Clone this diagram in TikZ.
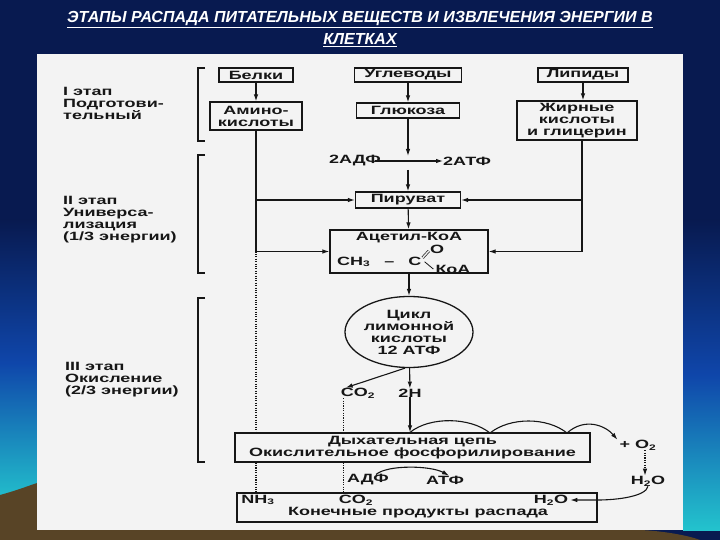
\documentclass[tikz,border=0pt]{standalone}
\usepackage{fontspec}
\setmainfont{Liberation Sans}
\newfontfamily\scanfont{Liberation Sans}[FakeStretch=1.5]
\usetikzlibrary{arrows.meta,shapes.geometric}
\definecolor{slide}{RGB}{8,26,80}
\definecolor{sea}{RGB}{35,195,205}
\definecolor{deep}{RGB}{15,70,170}
\definecolor{soil}{RGB}{88,68,38}
\definecolor{paper}{RGB}{243,243,243}
\definecolor{ink}{RGB}{22,22,22}

\begin{document}
\begin{tikzpicture}[x=1pt,y=-1pt,
    every node/.style={text=ink,font=\scanfont\bfseries\fontsize{12}{12}\selectfont},
    box/.style={draw=ink,line width=1.3pt,fill=paper,inner sep=0pt,align=center},
    lbl/.style={inner sep=0pt},
    stage/.style={inner sep=0pt,align=left,anchor=north west},
    title/.style={text=white,inner sep=0pt,font=\bfseries\itshape\fontsize{16}{16}\selectfont},
    con/.style={draw=ink,line width=1.1pt},
    arr/.style={con,-{Latex[length=7pt,width=4.5pt]}},
    dots/.style={draw=ink,line width=1.1pt,dash pattern=on 1.1pt off 1.3pt},
    brace/.style={draw=ink,line width=1.1pt}]

    % slide background
    \fill[slide] (0,0) rectangle (720,540);
    \shade[top color=slide,bottom color=sea,middle color=deep] (0,220) rectangle (37,505);
    \shade[top color=slide,bottom color=sea,middle color=deep] (683,220) rectangle (720,530);
    \fill[soil] (0,540) -- (0,495) .. controls (15,491) and (28,486) .. (37,483) -- (37,530)
        -- (640,530) .. controls (665,531) and (690,536) .. (700,540) -- cycle;
    \fill[paper] (37,54) rectangle (683,530);

    \node[title] (head1) at (360,20) {\underline{ЭТАПЫ РАСПАДА ПИТАТЕЛЬНЫХ ВЕЩЕСТВ И ИЗВЛЕЧЕНИЯ ЭНЕРГИИ В}};
    \node[title] (head2) at (360,40) {\underline{КЛЕТКАХ}};

    % stages
    \foreach \t/\b in {68/141,155/273,298/462} \draw[brace] (205,\t) -| (198,\b) -- (205,\b);
    \node[stage] (st1) at (63,87) {I этап\\Подготови-\\тельный};
    \node[stage] (st2) at (63,196) {II этап\\Универса-\\лизация\\(1/3 энергии)};
    \node[stage] (st3) at (65,362) {III этап\\Окисление\\(2/3 энергии)};

    % dotted lines (behind the boxes)
    \node[box,minimum width=92,minimum height=28] (amino) at (256,116) {Амино-\\кислоты};
    \node[box,minimum width=355,minimum height=29] (resp) at (412.5,447.5) {Дыхательная цепь\\Окислительное фосфорилирование};
    \node[box,minimum width=360,minimum height=29] (final) at (417,507.5) {};
    \node[box,minimum width=158,minimum height=43] (acoa) at (409,251.5) {};
    \node[lbl] (co2) at (358,393) {CO\textsubscript{2}};
    \draw[dots] (amino.south |- acoa.west) -- (amino.south |- resp.north)
        (amino.south |- resp.south) -- (amino.south |- final.north);
    \draw[dots] ([xshift=3pt]co2.south west) -- ([xshift=3pt]co2.south west |- resp.north)
        ([xshift=3pt]co2.south west |- resp.south) -- ([xshift=3pt]co2.south west |- final.north);

    % sources
    \node[box,minimum width=74,minimum height=14] (belki) at (256,75) {Белки};
    \node[box,minimum width=107,minimum height=14] (ugl) at (408,75) {Углеводы};
    \node[box,minimum width=103,minimum height=15] (gluc) at (408,110.5) {Глюкоза};
    \node[box,minimum width=90,minimum height=14] (lip) at (583,75) {Липиды};
    \node[box,minimum width=120,minimum height=39] (fat) at (577,120.5) {Жирные\\кислоты\\и глицерин};
    \draw[arr] (belki) -- (amino);
    \draw[arr] (ugl) -- (gluc);
    \draw[arr] (lip.south) -- (lip.south |- fat.north);

    % glycolysis
    \coordinate (split) at (408,161);
    \node[lbl,anchor=east] (adp) at (381,161) {2АДФ};
    \node[lbl,anchor=west] (atp) at (443,161) {2АТФ};
    \node[box,minimum width=105,minimum height=16] (pyr) at (408,200) {Пируват};
    \draw[arr] (gluc) -- ([yshift=5pt]split);
    \draw[arr] ([xshift=-6pt]adp.east) -- (atp);
    \draw[arr] ([yshift=-9pt]split) -- (pyr);
    \draw[arr] (pyr) -- (acoa);
    \draw[arr] (amino.south |- pyr.west) -- (pyr.west);
    \draw[arr] (amino.south) |- (acoa.west);
    \draw[arr] ([xshift=5pt]fat.south |- pyr.east) -- (pyr.east);
    \draw[arr] ([xshift=5pt]fat.south) |- (acoa.east);

    % acetyl-CoA
    \node[lbl] (acoatxt) at (409,238) {Ацетил-КоА};
    \node[lbl,anchor=base west] (ch3) at (337,265) {CH\textsubscript{3}\hspace{9pt} – \hspace{9pt}C};
    \node[lbl] (oxy) at (437,249) {O};
    \node[lbl] (koa) at (453,269) {КоА};
    \draw[ink,double=paper,double distance=1.4pt,line width=0.7pt]
        ([shift={(1,-4)}]ch3.east) -- ([shift={(-1,2)}]oxy.west);
    \draw[con,line width=0.8pt] ([shift={(3,0)}]ch3.east) -- ([shift={(-2,0)}]koa.west);

    % citric acid cycle
    \node[draw=ink,line width=1.3pt,ellipse,fill=paper,minimum width=128,minimum height=71,
        inner sep=0pt,align=center] (cycle) at (409,332) {Цикл\\лимонной\\кислоты\\12 АТФ};
    \node[lbl] (hh) at (410,393) {2H};
    \draw[arr] (acoa) -- (cycle);
    \draw[arr] ([xshift=-4pt]cycle.south) -- ([xshift=5pt]co2.north west);
    \draw[arr] (cycle) -- (hh);
    \draw[arr] (hh) -- (hh |- resp.north);

    % respiratory chain
    \coordinate (hop1) at (490,433);
    \coordinate (hop2) at (567,433);
    \node[lbl] (o2) at (638,445) {+ O\textsubscript{2}};
    \node[lbl] (h2o) at (648,481) {H\textsubscript{2}O};
    \draw[con] (hh |- resp.north) .. controls +(20,-16) and +(-20,-16) .. (hop1)
        .. controls +(20,-16) and +(-20,-16) .. (hop2);
    \draw[arr] (hop2) .. controls +(18,-16) and +(-12,-14) .. ([xshift=-2pt]o2.north west);
    \draw[dots,-{Latex[length=7pt,width=4.5pt]}] ([xshift=7pt]o2.south) -- ([xshift=-3pt]h2o.north);
    \node[lbl] (adp2) at (368,480) {АДФ};
    \node[lbl] (atp2) at (445,480) {АТФ};
    \draw[arr] ([xshift=8pt]adp2.north) .. controls +(12,-10) and +(-18,-10) .. ([xshift=4pt]atp2.north);

    % end products
    \node[lbl] (nh3) at (258,500) {NH\textsubscript{3}};
    \node[lbl] (co2b) at (356,500) {CO\textsubscript{2}};
    \node[lbl] (h2oin) at (551,500) {H\textsubscript{2}O};
    \node[lbl] (endtxt) at (418,513) {Конечные продукты распада};
    \draw[arr] (h2o.south) .. controls +(-2,10) and +(20,0) .. (final.east |- h2oin) -- ([xshift=2pt]h2oin.east);
\end{tikzpicture}
\end{document}
